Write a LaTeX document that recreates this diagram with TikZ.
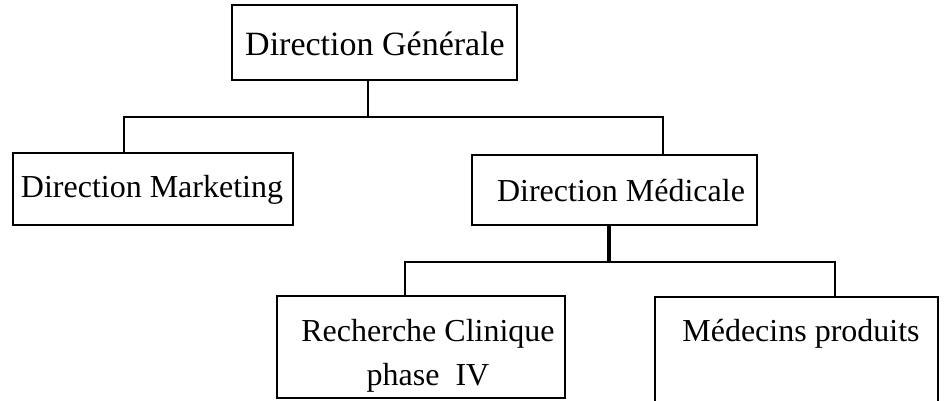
\documentclass[tikz,border=0pt]{standalone}
\usepackage{fontspec}
\setmainfont{Liberation Serif}
\begin{document}
\begin{tikzpicture}[x=1pt,y=-1pt,
  boxshape/.style={draw, line width=1.8pt, rectangle, inner sep=0pt},
  openbox/.style={rectangle, inner sep=0pt},
  label32/.style={inner sep=0pt, font=\fontsize{32}{46}\selectfont, align=center},
  label34/.style={inner sep=0pt, font=\fontsize{34}{40}\selectfont},
  conn/.style={line width=2pt},
  stem/.style={line width=2.8pt}]
\fill[white] (0,0) rectangle (946,401);
\useasboundingbox (0,0) rectangle (946,401);

% boxes
\node[boxshape, minimum width=285pt, minimum height=75pt] (gen) at (374.5,42.5) {};
\node[boxshape, minimum width=280pt, minimum height=72pt] (mkt) at (153,189) {};
\node[boxshape, minimum width=285pt, minimum height=70pt] (med) at (614.5,190) {};
\node[boxshape, minimum width=288pt, minimum height=102pt] (rech) at (421,347) {};
\node[openbox, minimum width=283pt, minimum height=106pt] (medc) at (796.5,350) {};
\draw[line width=1.8pt] (medc.south west) -- (medc.north west) -- (medc.north east) -- (medc.south east);

% texts
\node[label34] (tgen) at (375,44) {Direction Générale};
\node[label32] (tmkt) at (152,190) {Direction Marketing};
\node[label32] (tmed) at (621,191) {Direction Médicale};
\node[label32] (trech) at (428,356) {Recherche Clinique\\[-2pt]phase~~IV};
\node[label32] (tmedc) at (801,334) {Médecins produits};

% connectors level 1
\coordinate (j1) at (368,117);
\coordinate (l1) at (124,117);
\coordinate (r1) at (663,117);
\draw[stem] (gen.south -| j1) -- (j1);
\draw[conn] (mkt.north -| l1) -- (l1) -- (r1) -- (med.north -| r1);

% connectors level 2
\coordinate (j2) at (609,262);
\coordinate (l2) at (405,262);
\coordinate (r2) at (835,262);
\draw[stem, line width=3.5pt] (med.south -| j2) -- (j2);
\draw[conn] (rech.north -| l2) -- (l2) -- (r2) -- (medc.north -| r2);
\end{tikzpicture}
\end{document}
